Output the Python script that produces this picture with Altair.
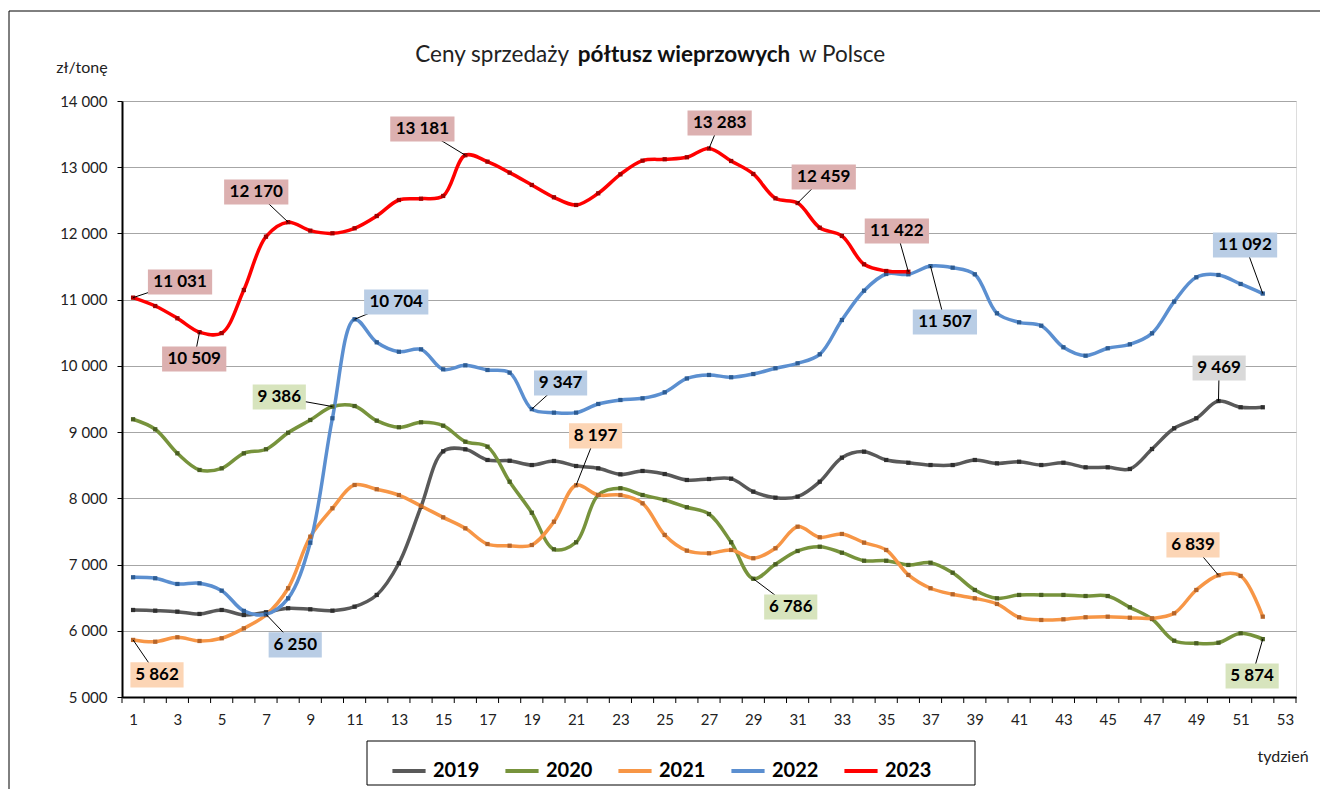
import altair as alt
import pandas as pd

# ---------------- data ----------------
weeks = list(range(1, 53))
years = ["2019", "2020", "2021", "2022", "2023"]

v2019 = [6314, 6304, 6289, 6254, 6314, 6238, 6279, 6340, 6324, 6304, 6364, 6541, 7019,
         7874, 8710, 8740, 8579, 8568, 8503, 8564, 8488, 8453, 8362, 8413, 8367, 8277,
         8292, 8297, 8101, 8010, 8025, 8251, 8614, 8705, 8579, 8538, 8503, 8503, 8579,
         8528, 8553, 8503, 8538, 8468, 8468, 8443, 8745, 9058, 9209, 9469, 9375, 9375]
v2020 = [9194, 9043, 8680, 8428, 8453, 8680, 8741, 8991, 9183, 9386, 9394, 9173, 9073,
         9148, 9097, 8855, 8780, 8251, 7783, 7230, 7336, 8050, 8152, 8050, 7975, 7865,
         7763, 7336, 6786, 7004, 7205, 7270, 7179, 7058, 7058, 6994, 7028, 6877, 6616,
         6490, 6541, 6541, 6541, 6525, 6525, 6354, 6178, 5850, 5811, 5820, 5962, 5874]
v2021 = [5862, 5835, 5902, 5846, 5887, 6037, 6238, 6642, 7421, 7850, 8202, 8137, 8050,
         7884, 7713, 7547, 7310, 7285, 7295, 7647, 8197, 8050, 8050, 7925, 7447, 7210,
         7170, 7220, 7095, 7246, 7572, 7412, 7462, 7331, 7220, 6843, 6642, 6551, 6490,
         6405, 6204, 6163, 6173, 6204, 6213, 6198, 6188, 6264, 6616, 6839, 6828, 6213]
v2022 = [6808, 6793, 6707, 6717, 6606, 6300, 6250, 6490, 7330, 9209, 10704, 10356, 10214,
         10250, 9948, 10008, 9938, 9898, 9347, 9294, 9294, 9425, 9485, 9510, 9601, 9810,
         9863, 9828, 9877, 9964, 10039, 10175, 10693, 11136, 11388, 11383, 11507, 11483, 11383,
         10794, 10658, 10607, 10281, 10154, 10266, 10326, 10492, 10970, 11338, 11373, 11237, 11092]
v2023 = [11031, 10904, 10719, 10509, 10495, 11146, 11951, 12170, 12042, 12002, 12078, 12263, 12505,
         12525, 12566, 13181, 13084, 12918, 12732, 12546, 12430, 12606, 12893, 13099, 13120, 13150,
         13283, 13094, 12898, 12530, 12459, 12087, 11962, 11534, 11433, 11422]

# annotated points: series, week, label centre (week units, value units)
label_year = ["2023", "2023", "2023", "2023", "2022", "2020", "2022", "2021", "2022", "2021",
              "2023", "2023", "2023", "2022", "2020", "2022", "2019", "2021", "2020"]
label_week = [1, 4, 8, 16, 11, 10, 7, 1, 19, 21, 27, 31, 36, 37, 29, 52, 50, 50, 52]
label_cx = [3.12, 3.76, 6.56, 14.06, 12.88, 7.6, 8.32, 2.08, 20.3, 21.88,
            27.48, 32.18, 35.48, 37.65, 30.69, 51.2, 50.03, 48.85, 51.52]
label_cy = [11267, 10104, 12626, 13577, 10965, 9530, 5786, 5333, 9742, 8942,
            13668, 12852, 12037, 10663, 6359, 11826, 9968, 7296, 5317]

title_parts = ["Ceny sprzedaży", "półtusz wieprzowych", "w Polsce"]
y_ticks = list(range(5000, 15000, 1000))
x_labels = list(range(1, 54, 2))
x_ticks = [w + 0.5 for w in range(0, 54)]

# ---------------- styles ----------------
line_colors = ["#595959", "#77933c", "#f79646", "#5b8fd0", "#ff0000"]
marker_colors = {"2019": "#2f2f2f", "2020": "#4a5f22", "2021": "#b5652a", "2022": "#2d5c93", "2023": "#a30000"}
box_colors = {"2019": "#d9d9d9", "2020": "#d7e4bd", "2021": "#fcd5b5", "2022": "#b9cde5", "2023": "#dcb0b0"}
FONT = "Lato"

series = dict(zip(years, [v2019, v2020, v2021, v2022, v2023]))
rows = []
for yr in years:
    for w, v in zip(weeks, series[yr]):
        rows.append({"year": yr, "week": w, "value": v, "mc": marker_colors[yr]})
df = pd.DataFrame(rows)

lab = pd.DataFrame({
    "year": label_year,
    "week": label_week,
    "value": [series[y][w - 1] for y, w in zip(label_year, label_week)],
    "lx": label_cx,
    "ly": label_cy,
})
lab["bg"] = lab["year"].map(box_colors)

xs = alt.Scale(domain=[0.5, 53.5], nice=False, zero=False)
ys = alt.Scale(domain=[5000, 14000], nice=False, zero=False)

W, H = 1174, 596

lines = alt.Chart(df).mark_line(interpolate="catmull-rom", strokeWidth=3.5).encode(
    x=alt.X("week:Q", scale=xs, axis=alt.Axis(
        values=x_labels, title=None, grid=False, ticks=False, format="d",
        domainColor="black", domainWidth=2,
        labelFont=FONT, labelFontSize=15, labelColor="#222", labelPadding=15,
        labelOverlap=False, labelFlush=False)),
    y=alt.Y("value:Q", scale=ys, axis=alt.Axis(
        values=y_ticks, title=None, grid=True, gridColor="#a6a6a6", gridWidth=1,
        labelExpr="replace(format(datum.value, ','), ',', ' ')",
        tickSize=5, tickColor="black", domainColor="black", domainWidth=2,
        labelFont=FONT, labelFontSize=15, labelColor="#222", labelPadding=10)),
    color=alt.Color("year:N", scale=alt.Scale(domain=years, range=line_colors),
                    legend=alt.Legend(title=None, orient="none", legendX=268, legendY=651,
                                      direction="horizontal", symbolType="stroke",
                                      symbolStrokeWidth=4, symbolSize=1100,
                                      labelFont=FONT, labelFontSize=20, labelFontWeight="bold",
                                      labelColor="black", columnPadding=17, labelOffset=5,
                                      padding=0)),
)

xticks = alt.Chart(pd.DataFrame({"t": x_ticks})).mark_rule(color="black", strokeWidth=1).encode(
    x=alt.X("t:Q", scale=xs), y=alt.value(H), y2=alt.value(H + 6),
)

markers = alt.Chart(df).mark_point(shape="square", filled=True, size=18, opacity=1).encode(
    x=alt.X("week:Q", scale=xs),
    y=alt.Y("value:Q", scale=ys),
    fill=alt.Fill("mc:N", scale=None),
)

leaders = alt.Chart(lab).mark_rule(color="black", strokeWidth=1).encode(
    x=alt.X("week:Q", scale=xs), y=alt.Y("value:Q", scale=ys),
    x2="lx:Q", y2="ly:Q",
)

boxes = alt.Chart(lab).transform_calculate(
    hw="datum.value >= 10000 ? 1.45 : 1.2",
).transform_calculate(
    x0="datum.lx - datum.hw", x1="datum.lx + datum.hw",
    y0="datum.ly - 190", y1="datum.ly + 190",
).mark_rect().encode(
    x=alt.X("x0:Q", scale=xs), x2="x1:Q",
    y=alt.Y("y0:Q", scale=ys), y2="y1:Q",
    fill=alt.Fill("bg:N", scale=None),
)

texts = alt.Chart(lab).transform_calculate(
    txt="replace(format(datum.value, ','), ',', ' ')"
).mark_text(font=FONT, fontSize=17, fontWeight="bold", color="black", baseline="middle").encode(
    x=alt.X("lx:Q", scale=xs), y=alt.Y("ly:Q", scale=ys), text="txt:N",
)

one = pd.DataFrame({"a": [0]})
TS = 22.5
t1 = alt.Chart(one).mark_text(text=title_parts[0], font=FONT, fontSize=TS, align="right",
                              baseline="middle", color="#222").encode(x=alt.value(447), y=alt.value(-46))
t2 = alt.Chart(one).mark_text(text=title_parts[1], font=FONT, fontSize=TS, fontWeight="bold",
                              align="center", baseline="middle", color="#111").encode(x=alt.value(562), y=alt.value(-46))
t3 = alt.Chart(one).mark_text(text=title_parts[2], font=FONT, fontSize=TS, align="left",
                              baseline="middle", color="#222").encode(x=alt.value(677), y=alt.value(-46))
yl = alt.Chart(one).mark_text(text="zł/tonę", font=FONT, fontSize=16, align="center",
                              baseline="middle", color="#222").encode(x=alt.value(-40), y=alt.value(-33))
xl = alt.Chart(one).mark_text(text="tydzień", font=FONT, fontSize=16, align="center",
                              baseline="middle", color="#222").encode(x=alt.value(1161), y=alt.value(656))
legbox = alt.Chart(one).mark_rect(fillOpacity=0, stroke="black", strokeWidth=1).encode(
    x=alt.value(245), x2=alt.value(853), y=alt.value(640), y2=alt.value(684))
outer = alt.Chart(one).mark_rect(fillOpacity=0, stroke="black", strokeWidth=1).encode(
    x=alt.value(-113), x2=alt.value(1199), y=alt.value(-90), y2=alt.value(720))

chart = alt.layer(
    outer, lines, xticks, markers, leaders, boxes, texts, t1, t2, t3, yl, xl, legbox
).properties(
    width=W, height=H,
    autosize=alt.AutoSizeParams(type="none"),
    padding={"left": 114, "top": 93, "right": 24, "bottom": 92},
).configure_view(stroke="black", strokeWidth=2).configure(background="white")

chart.save("out.html", embed_options={"renderer": "svg", "actions": False})
